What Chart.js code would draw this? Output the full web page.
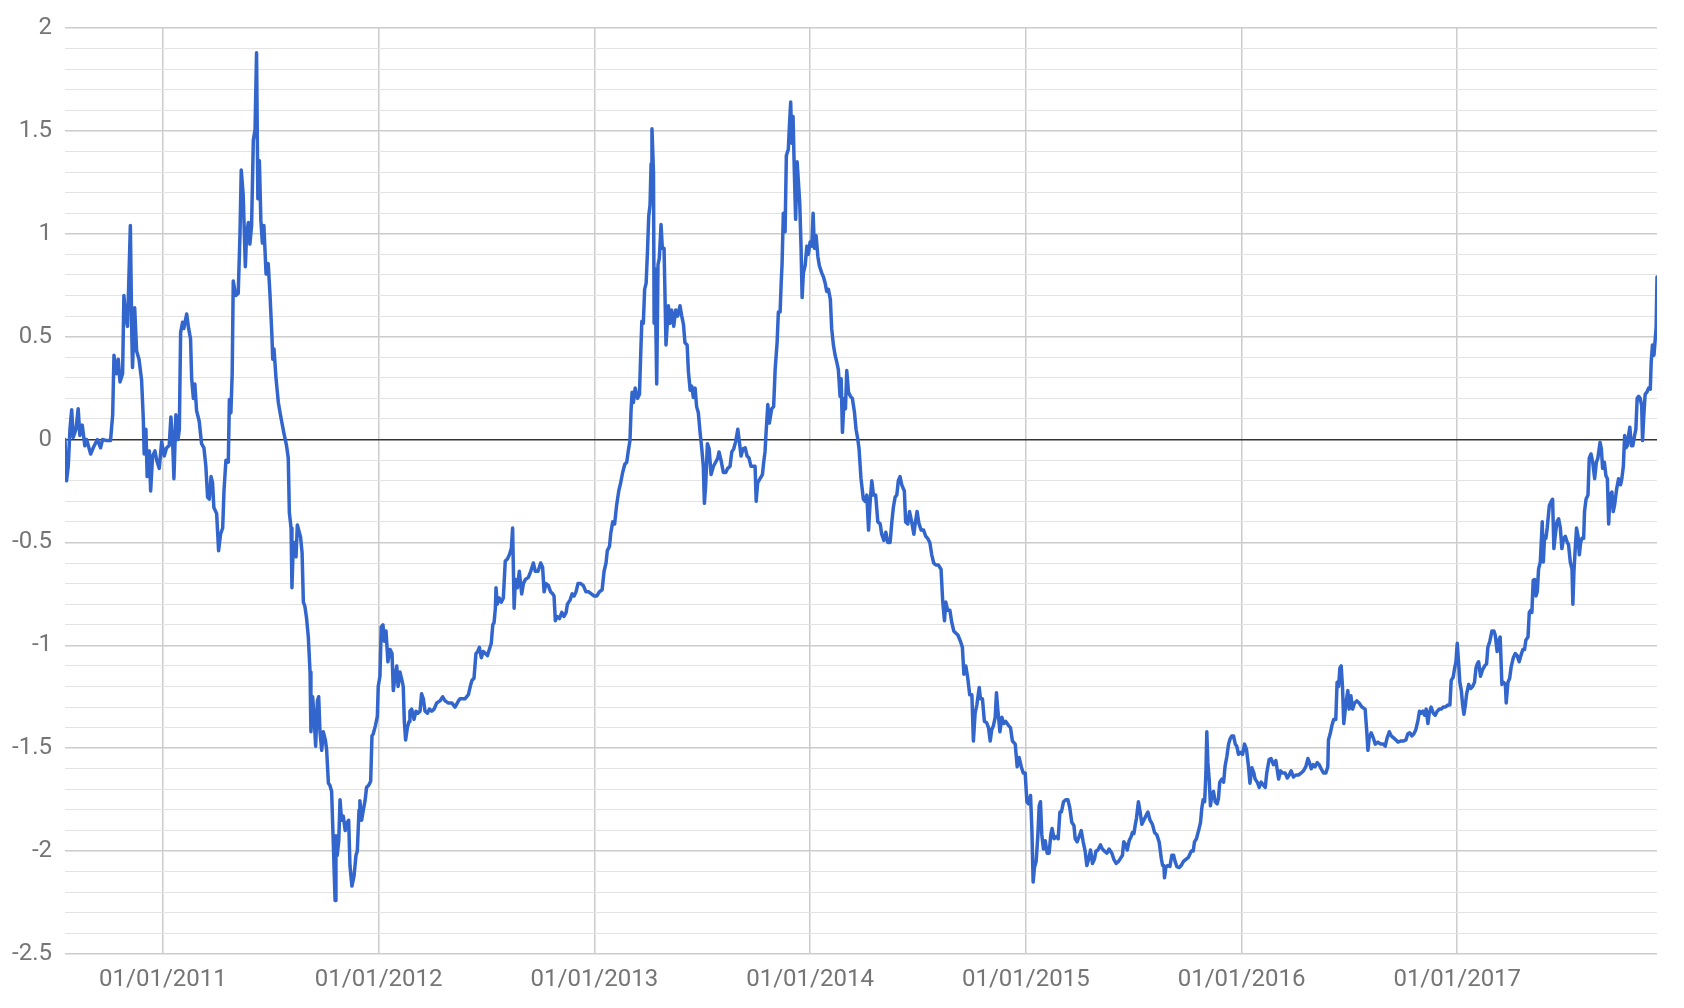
<!DOCTYPE html>
<html>
<head>
<meta charset="utf-8">
<script src="https://cdn.jsdelivr.net/npm/chart.js@4.4.1/dist/chart.umd.min.js"></script>
<style>
  html, body { margin: 0; padding: 0; background: #ffffff; }
  #wrap { width: 1684px; height: 1008px; }
</style>
</head>
<body>
<div id="wrap"><canvas id="chart" width="1684" height="1008"></canvas></div>
<script>
/* ---------- DATA (fractional year, value) ---------- */

const tickYears = [2011, 2012, 2013, 2014, 2015, 2016, 2017];

const dates = [
  2010.546, 2010.553, 2010.561, 2010.569, 2010.577, 2010.584, 2010.597, 2010.607, 2010.615, 2010.626,
  2010.638, 2010.646, 2010.665, 2010.677, 2010.696, 2010.711, 2010.720, 2010.739, 2010.757, 2010.767,
  2010.773, 2010.785, 2010.793, 2010.801, 2010.813, 2010.819, 2010.827, 2010.836, 2010.849, 2010.856,
  2010.859, 2010.869, 2010.878, 2010.889, 2010.901, 2010.909, 2010.913, 2010.921, 2010.927, 2010.937,
  2010.943, 2010.952, 2010.963, 2010.971, 2010.983, 2010.994, 2011.006, 2011.017, 2011.029, 2011.037,
  2011.045, 2011.051, 2011.060, 2011.070, 2011.076, 2011.082, 2011.091, 2011.097, 2011.110, 2011.119,
  2011.128, 2011.133, 2011.141, 2011.148, 2011.156, 2011.168, 2011.179, 2011.190, 2011.199, 2011.207,
  2011.215, 2011.223, 2011.230, 2011.236, 2011.249, 2011.258, 2011.267, 2011.277, 2011.283, 2011.292,
  2011.303, 2011.308, 2011.315, 2011.321, 2011.326, 2011.337, 2011.349, 2011.357, 2011.363, 2011.372,
  2011.382, 2011.388, 2011.396, 2011.403, 2011.411, 2011.419, 2011.427, 2011.434, 2011.440, 2011.447,
  2011.454, 2011.461, 2011.468, 2011.478, 2011.488,
  2011.496, 2011.505, 2011.509, 2011.515, 2011.524, 2011.535, 2011.543, 2011.550, 2011.561, 2011.573,
  2011.581, 2011.586, 2011.594, 2011.598, 2011.604, 2011.611, 2011.617, 2011.623, 2011.632, 2011.638,
  2011.645, 2011.651, 2011.658, 2011.666, 2011.674, 2011.682, 2011.686, 2011.694, 2011.700, 2011.708,
  2011.716, 2011.722, 2011.728, 2011.736, 2011.743, 2011.753, 2011.759, 2011.767, 2011.774, 2011.782,
  2011.790, 2011.798, 2011.802, 2011.808, 2011.815, 2011.821, 2011.828, 2011.836, 2011.845, 2011.855,
  2011.861, 2011.867, 2011.876, 2011.886, 2011.895, 2011.901, 2011.909, 2011.913, 2011.921, 2011.929,
  2011.937, 2011.944, 2011.954, 2011.963, 2011.969, 2011.975, 2011.985, 2011.994, 2011.998, 2012.006,
  2012.012, 2012.020, 2012.026, 2012.034, 2012.043, 2012.053, 2012.062, 2012.068, 2012.076, 2012.084,
  2012.090, 2012.099, 2012.108, 2012.114, 2012.119, 2012.125, 2012.133, 2012.141, 2012.145, 2012.153,
  2012.164, 2012.173, 2012.182, 2012.192, 2012.199, 2012.207, 2012.215, 2012.226, 2012.235, 2012.246,
  2012.257, 2012.269, 2012.284, 2012.297, 2012.308, 2012.323, 2012.339, 2012.354, 2012.370,
  2012.377, 2012.400, 2012.416, 2012.427, 2012.433, 2012.442, 2012.451, 2012.459, 2012.467, 2012.476,
  2012.485, 2012.495, 2012.504, 2012.513, 2012.522, 2012.529, 2012.535, 2012.541, 2012.544, 2012.550,
  2012.559, 2012.569, 2012.578, 2012.587, 2012.597, 2012.606, 2012.615, 2012.621, 2012.628, 2012.634,
  2012.643, 2012.652, 2012.663, 2012.671, 2012.680, 2012.694, 2012.705, 2012.717, 2012.726, 2012.739,
  2012.751, 2012.760, 2012.767, 2012.776, 2012.787, 2012.797, 2012.807, 2012.813, 2012.819, 2012.828,
  2012.838, 2012.849, 2012.859, 2012.869, 2012.875, 2012.887, 2012.897, 2012.906, 2012.915, 2012.924,
  2012.937, 2012.949, 2012.961, 2012.974, 2012.986, 2012.998, 2013.011, 2013.023, 2013.036, 2013.045,
  2013.054, 2013.060, 2013.070, 2013.076, 2013.085, 2013.094, 2013.103, 2013.113, 2013.122, 2013.131,
  2013.141, 2013.150, 2013.158, 2013.165, 2013.170, 2013.175, 2013.181, 2013.189, 2013.200, 2013.209,
  2013.215, 2013.220, 2013.227, 2013.233, 2013.240, 2013.246, 2013.252, 2013.258, 2013.263, 2013.267,
  2013.274, 2013.277, 2013.281, 2013.289, 2013.295, 2013.301, 2013.309, 2013.315, 2013.323, 2013.332,
  2013.343, 2013.351,
  2013.358, 2013.368, 2013.377, 2013.386, 2013.397, 2013.405, 2013.413, 2013.420, 2013.430, 2013.436,
  2013.444, 2013.451, 2013.459, 2013.467, 2013.474, 2013.482, 2013.490, 2013.498, 2013.505, 2013.510,
  2013.516, 2013.524, 2013.532, 2013.541, 2013.552, 2013.562, 2013.572, 2013.578, 2013.587, 2013.598,
  2013.609, 2013.618, 2013.629, 2013.637, 2013.646, 2013.655, 2013.665, 2013.672, 2013.680, 2013.689,
  2013.699, 2013.708, 2013.717, 2013.726, 2013.737, 2013.745, 2013.750, 2013.757, 2013.768, 2013.779,
  2013.785, 2013.791, 2013.796, 2013.804, 2013.811, 2013.822, 2013.831, 2013.838, 2013.847, 2013.853,
  2013.861, 2013.866, 2013.870, 2013.876, 2013.884, 2013.890, 2013.899, 2013.904, 2013.910, 2013.915,
  2013.921, 2013.927, 2013.933, 2013.940, 2013.946, 2013.952, 2013.958, 2013.963, 2013.969, 2013.977,
  2013.985, 2013.992, 2014.000, 2014.008, 2014.014, 2014.020, 2014.028, 2014.036, 2014.043, 2014.054,
  2014.062, 2014.070, 2014.077, 2014.085, 2014.094, 2014.100, 2014.108, 2014.116, 2014.124, 2014.131,
  2014.139, 2014.144, 2014.150, 2014.158, 2014.164, 2014.170, 2014.178, 2014.187, 2014.196, 2014.206,
  2014.213, 2014.221, 2014.227, 2014.236, 2014.247, 2014.255,
  2014.263, 2014.271, 2014.278, 2014.286, 2014.294, 2014.304, 2014.314, 2014.325, 2014.332, 2014.342,
  2014.351, 2014.360, 2014.371, 2014.379, 2014.386, 2014.394, 2014.402, 2014.409, 2014.417, 2014.425,
  2014.437, 2014.443, 2014.453, 2014.461, 2014.471, 2014.481, 2014.487, 2014.496, 2014.505, 2014.515,
  2014.526, 2014.536, 2014.545, 2014.555, 2014.564, 2014.573, 2014.583, 2014.595, 2014.607, 2014.615,
  2014.623, 2014.629, 2014.638, 2014.648, 2014.657, 2014.666, 2014.675, 2014.685, 2014.697, 2014.706,
  2014.713, 2014.722, 2014.731, 2014.740, 2014.750, 2014.757, 2014.765, 2014.773, 2014.784, 2014.790,
  2014.799, 2014.808, 2014.818, 2014.827, 2014.835, 2014.842, 2014.850, 2014.858, 2014.864, 2014.870,
  2014.880, 2014.889, 2014.898, 2014.907, 2014.920, 2014.929, 2014.938, 2014.951, 2014.960, 2014.969,
  2014.979, 2014.988, 2014.997, 2015.005, 2015.012, 2015.022, 2015.028, 2015.034, 2015.040, 2015.048,
  2015.056, 2015.062, 2015.068, 2015.074, 2015.082, 2015.090, 2015.099, 2015.108, 2015.116, 2015.122,
  2015.131, 2015.141, 2015.150, 2015.158, 2015.165, 2015.175,
  2015.185, 2015.195, 2015.204, 2015.213, 2015.223, 2015.229, 2015.238, 2015.247, 2015.257, 2015.266,
  2015.275, 2015.283, 2015.291, 2015.300, 2015.309, 2015.318, 2015.325, 2015.334, 2015.346, 2015.355,
  2015.365, 2015.376, 2015.386, 2015.399, 2015.408, 2015.419, 2015.430, 2015.439, 2015.448, 2015.454,
  2015.464, 2015.470, 2015.479, 2015.488, 2015.494, 2015.501, 2015.507, 2015.513, 2015.522, 2015.530,
  2015.538, 2015.547, 2015.556, 2015.566, 2015.576, 2015.587, 2015.597, 2015.607, 2015.618, 2015.628,
  2015.634, 2015.640, 2015.643, 2015.649, 2015.658, 2015.668, 2015.677, 2015.685, 2015.692, 2015.700,
  2015.711, 2015.720, 2015.731, 2015.742, 2015.754, 2015.767, 2015.776, 2015.782, 2015.791, 2015.801,
  2015.810, 2015.816, 2015.822, 2015.829, 2015.835, 2015.839, 2015.844, 2015.850, 2015.856, 2015.862,
  2015.870, 2015.878, 2015.887, 2015.893, 2015.899, 2015.909, 2015.917, 2015.924, 2015.932, 2015.940,
  2015.947, 2015.955, 2015.963, 2015.971, 2015.978, 2015.986, 2015.995, 2016.005, 2016.014, 2016.023,
  2016.032, 2016.039, 2016.048, 2016.057, 2016.063, 2016.073, 2016.082, 2016.091, 2016.102, 2016.110,
  2016.117, 2016.128, 2016.137, 2016.148, 2016.159, 2016.172, 2016.181, 2016.190, 2016.202, 2016.212,
  2016.221, 2016.230, 2016.241, 2016.252, 2016.264, 2016.277, 2016.287, 2016.298, 2016.308, 2016.315,
  2016.323, 2016.332, 2016.341, 2016.351, 2016.360, 2016.369, 2016.380, 2016.391, 2016.400, 2016.403,
  2016.411, 2016.419, 2016.427, 2016.437, 2016.443, 2016.450, 2016.456, 2016.462, 2016.468, 2016.474,
  2016.484, 2016.493, 2016.499, 2016.507, 2016.515, 2016.524, 2016.535, 2016.545, 2016.558, 2016.573,
  2016.580, 2016.586, 2016.592, 2016.601, 2016.611, 2016.620, 2016.632, 2016.645, 2016.657, 2016.666,
  2016.675, 2016.685, 2016.694, 2016.705, 2016.716, 2016.725, 2016.737, 2016.750, 2016.762, 2016.771,
  2016.780, 2016.790, 2016.799, 2016.808, 2016.817, 2016.825, 2016.833, 2016.841, 2016.849, 2016.856,
  2016.864, 2016.870, 2016.879, 2016.889, 2016.898, 2016.907, 2016.917, 2016.926, 2016.935, 2016.944,
  2016.957, 2016.966, 2016.972, 2016.981, 2016.988, 2016.994, 2017.000, 2017.006, 2017.012, 2017.019,
  2017.025, 2017.031,
  2017.037, 2017.043, 2017.053, 2017.062, 2017.071, 2017.080, 2017.087, 2017.093, 2017.099, 2017.108,
  2017.117, 2017.127, 2017.136, 2017.142, 2017.151, 2017.161, 2017.170, 2017.176, 2017.185, 2017.192,
  2017.199, 2017.207, 2017.215, 2017.223, 2017.227, 2017.235, 2017.243, 2017.250, 2017.260, 2017.269,
  2017.278, 2017.287, 2017.295, 2017.304, 2017.312, 2017.318, 2017.328, 2017.334, 2017.340, 2017.346,
  2017.352, 2017.359, 2017.365, 2017.371, 2017.377, 2017.385, 2017.389, 2017.394, 2017.399, 2017.405,
  2017.411, 2017.417, 2017.427, 2017.436, 2017.442, 2017.448, 2017.454, 2017.462, 2017.470, 2017.478,
  2017.485, 2017.493, 2017.501, 2017.510, 2017.516, 2017.524, 2017.532, 2017.536, 2017.541, 2017.547,
  2017.553, 2017.560, 2017.566, 2017.572, 2017.578, 2017.586, 2017.590, 2017.597, 2017.606, 2017.612,
  2017.620, 2017.628, 2017.637, 2017.645, 2017.652, 2017.662, 2017.668, 2017.674, 2017.682, 2017.689,
  2017.696, 2017.702, 2017.708, 2017.717, 2017.723, 2017.729, 2017.739, 2017.748, 2017.757, 2017.763,
  2017.770, 2017.776, 2017.782, 2017.788, 2017.794, 2017.800, 2017.807, 2017.814, 2017.822, 2017.828,
  2017.834, 2017.841, 2017.848, 2017.855, 2017.859, 2017.865, 2017.871, 2017.879, 2017.887, 2017.895,
  2017.899, 2017.905, 2017.912, 2017.918, 2017.922, 2017.926
];

const values = [
  0.00, -0.20, -0.13, 0.05, 0.145, 0.01, 0.05, 0.15, 0.02, 0.07,
  -0.03, 0.00, -0.07, -0.04, 0.00, -0.04, 0.00, -0.005, -0.005, 0.12,
  0.41, 0.32, 0.39, 0.28, 0.32, 0.70, 0.60, 0.55, 1.04, 0.49,
  0.35, 0.64, 0.43, 0.39, 0.29, 0.10, -0.07, 0.05, -0.18, -0.055,
  -0.25, -0.08, -0.055, -0.10, -0.14, -0.01, -0.08, -0.04, -0.03, 0.11,
  -0.01, -0.19, 0.12, 0.00, 0.05, 0.52, 0.57, 0.54, 0.61, 0.54,
  0.49, 0.30, 0.20, 0.27, 0.14, 0.09, -0.02, -0.04, -0.13, -0.28,
  -0.29, -0.18, -0.21, -0.33, -0.36, -0.54, -0.46, -0.43, -0.25, -0.10,
  -0.11, 0.195, 0.13, 0.32, 0.77, 0.70, 0.71, 0.99, 1.31, 1.19,
  0.84, 1.00, 1.055, 0.95, 1.04, 1.455, 1.505, 1.88, 1.17, 1.355,
  1.065, 0.955, 1.04, 0.805, 0.855,
  0.71, 0.51, 0.39, 0.44, 0.30, 0.18, 0.13, 0.09, 0.03, -0.03,
  -0.09, -0.355, -0.43, -0.72, -0.52, -0.50, -0.57, -0.415, -0.45, -0.475,
  -0.55, -0.79, -0.81, -0.87, -0.96, -1.13, -1.42, -1.25, -1.34, -1.49,
  -1.27, -1.25, -1.42, -1.51, -1.42, -1.46, -1.51, -1.67, -1.68, -1.71,
  -1.97, -2.24, -1.925, -2.02, -1.95, -1.75, -1.85, -1.83, -1.90, -1.86,
  -1.85, -2.07, -2.17, -2.12, -2.02, -2.00, -1.80, -1.755, -1.85, -1.80,
  -1.755, -1.69, -1.68, -1.66, -1.44, -1.43, -1.39, -1.345, -1.20, -1.15,
  -0.91, -0.90, -0.98, -0.93, -1.08, -1.02, -1.04, -1.22, -1.15, -1.10,
  -1.20, -1.13, -1.17, -1.20, -1.37, -1.46, -1.40, -1.37, -1.32, -1.31,
  -1.36, -1.32, -1.33, -1.32, -1.235, -1.26, -1.32, -1.33, -1.31, -1.32,
  -1.31, -1.28, -1.27, -1.25, -1.27, -1.28, -1.28, -1.30, -1.27,
  -1.26, -1.26, -1.24, -1.19, -1.17, -1.16, -1.04, -1.03, -1.01, -1.06,
  -1.03, -1.04, -1.05, -1.02, -0.99, -0.90, -0.89, -0.82, -0.72, -0.80,
  -0.77, -0.79, -0.77, -0.59, -0.58, -0.56, -0.53, -0.43, -0.82, -0.68,
  -0.72, -0.64, -0.75, -0.70, -0.68, -0.67, -0.64, -0.60, -0.64, -0.64,
  -0.60, -0.62, -0.74, -0.70, -0.71, -0.74, -0.75, -0.76, -0.88, -0.86,
  -0.87, -0.84, -0.86, -0.84, -0.80, -0.78, -0.75, -0.76, -0.74, -0.70,
  -0.70, -0.71, -0.74, -0.74, -0.75, -0.76, -0.76, -0.74, -0.73, -0.64,
  -0.60, -0.54, -0.52, -0.455, -0.40, -0.41, -0.32, -0.25, -0.21, -0.16,
  -0.12, -0.11, -0.05, -0.005, 0.14, 0.23, 0.18, 0.25, 0.20, 0.22,
  0.42, 0.575, 0.565, 0.73, 0.76, 0.91, 1.085, 1.14, 1.34, 1.51,
  1.30, 0.565, 0.83, 0.27, 0.85, 0.88, 1.045, 0.93, 0.93, 0.46,
  0.65, 0.565,
  0.63, 0.55, 0.63, 0.60, 0.65, 0.60, 0.56, 0.47, 0.46, 0.33,
  0.24, 0.26, 0.205, 0.25, 0.16, 0.13, 0.035, -0.045, -0.13, -0.31,
  -0.22, -0.02, -0.045, -0.17, -0.13, -0.11, -0.09, -0.06, -0.10, -0.16,
  -0.16, -0.14, -0.13, -0.06, -0.045, -0.01, 0.05, -0.01, -0.08, -0.045,
  -0.04, -0.08, -0.09, -0.13, -0.13, -0.13, -0.30, -0.21, -0.19, -0.17,
  -0.11, -0.06, 0.035, 0.17, 0.08, 0.15, 0.16, 0.34, 0.47, 0.62,
  0.62, 0.76, 0.85, 1.10, 1.01, 1.38, 1.41, 1.52, 1.64, 1.44,
  1.57, 1.30, 1.07, 1.35, 1.25, 1.15, 0.94, 0.69, 0.81, 0.845,
  0.94, 0.90, 0.96, 0.94, 1.10, 0.93, 0.99, 0.89, 0.845, 0.81,
  0.79, 0.76, 0.72, 0.73, 0.68, 0.54, 0.46, 0.41, 0.375, 0.34,
  0.21, 0.295, 0.035, 0.20, 0.15, 0.335, 0.23, 0.21, 0.20, 0.13,
  0.05, 0.003, -0.045, -0.19, -0.29, -0.30,
  -0.27, -0.44, -0.31, -0.20, -0.27, -0.27, -0.40, -0.41, -0.46, -0.49,
  -0.45, -0.50, -0.50, -0.40, -0.33, -0.28, -0.27, -0.20, -0.18, -0.22,
  -0.25, -0.40, -0.41, -0.35, -0.40, -0.46, -0.41, -0.35, -0.41, -0.44,
  -0.44, -0.47, -0.48, -0.50, -0.56, -0.60, -0.61, -0.61, -0.63, -0.79,
  -0.88, -0.79, -0.83, -0.83, -0.89, -0.93, -0.94, -0.95, -0.98, -1.01,
  -1.14, -1.10, -1.16, -1.24, -1.24, -1.465, -1.33, -1.29, -1.205, -1.26,
  -1.26, -1.37, -1.375, -1.40, -1.465, -1.41, -1.39, -1.35, -1.23, -1.31,
  -1.42, -1.35, -1.38, -1.37, -1.39, -1.40, -1.465, -1.48, -1.59, -1.545,
  -1.59, -1.62, -1.62, -1.76, -1.77, -1.73, -1.89, -2.15, -2.08, -2.05,
  -1.92, -1.78, -1.76, -1.92, -1.99, -1.95, -2.01, -2.01, -1.92, -1.89,
  -1.94, -1.93, -1.94, -1.81, -1.81, -1.76,
  -1.75, -1.75, -1.79, -1.86, -1.875, -1.94, -1.955, -1.93, -1.90, -1.955,
  -2.00, -2.07, -2.04, -1.995, -2.06, -2.04, -2.00, -1.995, -1.97, -1.99,
  -2.00, -2.01, -1.99, -2.01, -2.04, -2.06, -2.05, -2.035, -2.02, -1.955,
  -1.97, -1.995, -1.95, -1.93, -1.91, -1.915, -1.875, -1.84, -1.76, -1.81,
  -1.87, -1.85, -1.83, -1.81, -1.85, -1.87, -1.91, -1.92, -1.955, -2.035,
  -2.07, -2.07, -2.13, -2.08, -2.07, -2.075, -2.02, -2.02, -2.05, -2.075,
  -2.08, -2.07, -2.05, -2.04, -2.03, -2.00, -2.00, -1.955, -1.94, -1.90,
  -1.86, -1.79, -1.75, -1.76, -1.62, -1.42, -1.57, -1.65, -1.78, -1.73,
  -1.71, -1.76, -1.77, -1.745, -1.665, -1.65, -1.665, -1.585, -1.54, -1.48,
  -1.455, -1.44, -1.44, -1.48, -1.49, -1.53, -1.52, -1.53, -1.48, -1.505,
  -1.585, -1.67, -1.595, -1.62, -1.65, -1.665, -1.69, -1.665, -1.68, -1.69,
  -1.62, -1.555, -1.55, -1.58, -1.56, -1.65, -1.61, -1.62, -1.62, -1.645,
  -1.63, -1.61, -1.64, -1.63, -1.63, -1.62, -1.61, -1.59, -1.55, -1.57,
  -1.60, -1.58, -1.59, -1.57, -1.58, -1.60, -1.62, -1.62, -1.59, -1.46,
  -1.43, -1.39, -1.36, -1.36, -1.18, -1.20, -1.11, -1.10, -1.20, -1.38,
  -1.28, -1.22, -1.31, -1.245, -1.31, -1.28, -1.27, -1.28, -1.30, -1.31,
  -1.41, -1.51, -1.45, -1.425, -1.45, -1.48, -1.47, -1.48, -1.48, -1.49,
  -1.45, -1.42, -1.44, -1.45, -1.46, -1.47, -1.465, -1.465, -1.46, -1.43,
  -1.425, -1.44, -1.43, -1.41, -1.37, -1.32, -1.33, -1.32, -1.34, -1.31,
  -1.38, -1.33, -1.30, -1.33, -1.34, -1.32, -1.31, -1.31, -1.30, -1.30,
  -1.29, -1.29, -1.17, -1.155, -1.11, -1.08, -0.99, -1.08, -1.18, -1.22,
  -1.29, -1.335,
  -1.295, -1.24, -1.19, -1.21, -1.20, -1.18, -1.11, -1.09, -1.08, -1.15,
  -1.12, -1.10, -1.09, -1.01, -0.98, -0.93, -0.93, -0.95, -1.03, -0.976,
  -0.96, -1.19, -1.18, -1.19, -1.28, -1.18, -1.16, -1.105, -1.06, -1.04,
  -1.05, -1.08, -1.05, -1.02, -1.02, -0.975, -0.96, -0.84, -0.83, -0.84,
  -0.685, -0.68, -0.76, -0.74, -0.63, -0.595, -0.51, -0.40, -0.595, -0.47,
  -0.48, -0.43, -0.32, -0.30, -0.29, -0.53, -0.47, -0.40, -0.385, -0.43,
  -0.53, -0.48, -0.47, -0.50, -0.51, -0.595, -0.63, -0.80, -0.64, -0.53,
  -0.43, -0.47, -0.56, -0.50, -0.48, -0.48, -0.35, -0.29, -0.27, -0.09,
  -0.07, -0.11, -0.19, -0.11, -0.09, -0.013, -0.045, -0.14, -0.11, -0.175,
  -0.19, -0.41, -0.27, -0.255, -0.35, -0.32, -0.24, -0.19, -0.22, -0.19,
  -0.13, 0.02, -0.04, -0.03, 0.02, 0.06, -0.03, -0.03, 0.02, 0.05,
  0.20, 0.21, 0.20, 0.165, -0.005, 0.12, 0.22, 0.23, 0.25, 0.245,
  0.375, 0.46, 0.41, 0.49, 0.545, 0.79
];

const xMin = 2010.546;
const xMax = 2017.926;
const yMin = -2.5;
const yMax = 2;

/* ---------- HELPERS ---------- */

function isMajor(v) {
  return Math.abs(v * 2 - Math.round(v * 2)) < 1e-6;
}

function yGridColor(v) {
  if (Math.abs(v) < 1e-6) return '#333333';
  return isMajor(v) ? '#cccccc' : '#e3e3e3';
}

function yGridWidth(v) {
  if (Math.abs(v) < 1e-6) return 1.5;
  return isMajor(v) ? 1.5 : 1;
}

/* ---------- CHART ---------- */

const points = dates.map((d, i) => ({ x: d, y: values[i] }));

const tickFont = { family: 'Roboto', size: 24 };

new Chart(document.getElementById('chart'), {
  type: 'line',
  data: {
    datasets: [{
      data: points,
      borderColor: '#3366cc',
      borderWidth: 3.5,
      pointRadius: 0,
      tension: 0,
      borderJoinStyle: 'round',
      borderCapStyle: 'round',
      fill: false
    }]
  },
  options: {
    responsive: false,
    animation: false,
    layout: { padding: { top: 28, right: 27, left: 0, bottom: 0 } },
    plugins: { legend: { display: false }, tooltip: { enabled: false } },
    scales: {
      x: {
        type: 'linear',
        min: xMin,
        max: xMax,
        afterBuildTicks: scale => { scale.ticks = tickYears.map(v => ({ value: v })); },
        afterFit: scale => { scale.height = 54; },
        border: { display: false },
        grid: { color: '#cccccc', lineWidth: 1.5, drawTicks: false },
        ticks: {
          autoSkip: false,
          maxRotation: 0,
          padding: 12,
          color: '#757575',
          font: tickFont,
          callback: v => '01/01/' + v
        }
      },
      y: {
        min: yMin,
        max: yMax,
        afterBuildTicks: scale => {
          const t = [];
          for (let i = yMin * 10; i <= yMax * 10; i++) t.push({ value: i / 10 });
          scale.ticks = t;
        },
        afterFit: scale => { scale.width = 65; },
        border: { display: false },
        grid: {
          drawTicks: false,
          color: ctx => yGridColor(ctx.tick.value),
          lineWidth: ctx => yGridWidth(ctx.tick.value)
        },
        ticks: {
          autoSkip: false,
          padding: 13,
          color: '#757575',
          font: tickFont,
          callback: v => isMajor(v) ? String(Number(v.toFixed(1))) : ''
        }
      }
    }
  }
});
</script>
</body>
</html>
